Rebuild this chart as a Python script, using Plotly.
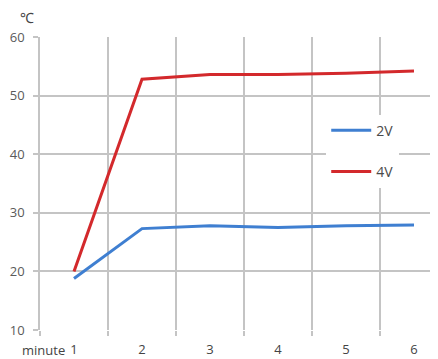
import plotly.graph_objects as go

minutes = [1, 2, 3, 4, 5, 6]
temp_2v = [18.8, 27.3, 27.8, 27.5, 27.8, 27.9]
temp_4v = [20.0, 52.8, 53.6, 53.6, 53.8, 54.2]
y_ticks = [10, 20, 30, 40, 50, 60]
boundaries = [m - 0.5 for m in minutes] + [minutes[-1] + 0.5]

fig = go.Figure()
fig.add_trace(go.Scatter(x=minutes, y=temp_2v, mode="lines", name="2V",
                         line=dict(color="#3f7fd1", width=3), legendgroup="a"))
fig.add_trace(go.Scatter(x=minutes, y=temp_4v, mode="lines", name="4V",
                         line=dict(color="#d3292c", width=3), legendgroup="b"))

grid = "#c4c4c4"

fig.update_layout(
    width=438, height=359,
    margin=dict(l=32, r=0, t=29, b=37),
    paper_bgcolor="white", plot_bgcolor="white",
    font=dict(family="Open Sans, Liberation Sans, sans-serif", size=12, color="#555555"),
    showlegend=True,
    legend=dict(x=0.705, y=0.735, xanchor="left", yanchor="top",
                bgcolor="white", borderwidth=0, tracegroupgap=20,
                font=dict(family="Open Sans, sans-serif", size=14, color="#4a4a4a"),
                itemwidth=40),
    xaxis=dict(range=[0.5, 0.5 + 406 / 68], tickmode="array", tickvals=minutes,
               ticktext=[str(m) for m in minutes],
               showgrid=False, zeroline=False, showline=False,
               ticks="", ticklabelstandoff=10,
               tickfont=dict(size=13, color="#444444"),
               minor=dict(tickmode="array", tickvals=boundaries, showgrid=True,
                          gridcolor=grid, gridwidth=1.5, ticks="outside", ticklen=5,
                          tickcolor=grid, tickwidth=1.5)),
    yaxis=dict(range=[10, 60], tickvals=y_ticks, showgrid=True, gridcolor=grid,
               gridwidth=1.5, zeroline=False, showline=True, linecolor=grid,
               linewidth=1.5, ticks="outside", ticklen=5, tickcolor=grid, tickwidth=1.5,
               ticklabelstandoff=6,
               tickfont=dict(size=13, color="#5a5a5a")),
    annotations=[
        dict(text="℃", xref="paper", yref="paper", x=0, y=1, xanchor="right",
             yanchor="bottom", xshift=-4, yshift=8, showarrow=False,
             font=dict(size=14, color="#444444")),
        dict(text="minute", xref="paper", yref="paper", x=0, y=0, xanchor="right",
             yanchor="middle", xshift=27, yshift=-20, showarrow=False,
             font=dict(size=13, color="#444444")),
    ],
)

fig.write_html("out.html")
